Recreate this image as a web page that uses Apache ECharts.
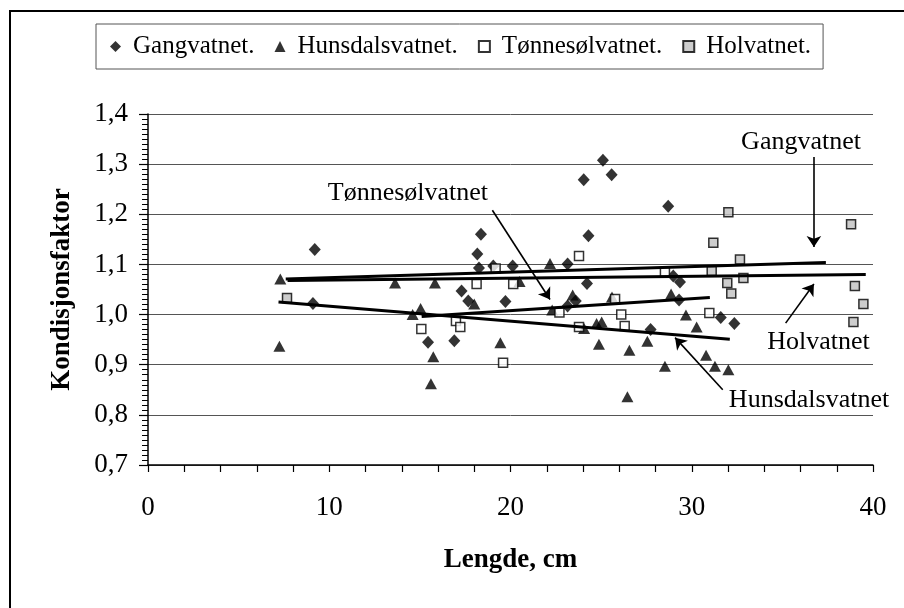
<!DOCTYPE html>
<html>
<head>
<meta charset="utf-8">
<script src="https://cdn.jsdelivr.net/npm/echarts@6/dist/echarts.min.js"></script>
<style>html,body{margin:0;padding:0;background:#fff}#c{width:904px;height:608px}</style>
</head>
<body>
<div id="c"></div>
<script>
// ---- Data (Lengde cm, Kondisjonsfaktor) ----
const seriesNames = ['Gangvatnet.', 'Hunsdalsvatnet.', 'Tønnesølvatnet.', 'Holvatnet.'];

const gangvatnet = [
  [9.2,1.130],[9.1,1.022],[15.45,0.945],[16.9,0.948],[17.3,1.047],[17.67,1.027],
  [18.17,1.121],[18.37,1.160],[18.26,1.093],[19.05,1.097],[19.72,1.026],[20.12,1.097],
  [23.15,1.101],[23.15,1.017],[23.6,1.027],[24.04,1.269],[24.3,1.157],[24.22,1.062],
  [25.1,1.308],[25.58,1.279],[27.73,0.970],[28.7,1.216],[28.98,1.077],[29.35,1.065],
  [29.3,1.029],[31.6,0.994],[32.35,0.982]
];
const hunsdalsvatnet = [
  [7.3,1.071],[7.25,0.937],[13.63,1.063],[15.83,1.063],[15.04,1.012],[14.6,1.000],
  [15.74,0.916],[15.61,0.862],[18.0,1.021],[19.44,0.944],[20.5,1.066],[22.18,1.102],
  [22.3,1.009],[23.43,1.039],[24.06,0.972],[24.75,0.982],[25.03,0.985],[24.88,0.941],
  [25.6,1.035],[26.56,0.929],[26.45,0.836],[27.55,0.947],[28.52,0.897],[28.86,1.041],
  [29.68,0.999],[30.27,0.975],[30.79,0.919],[31.28,0.897],[32.02,0.890]
];
const tonnesolvatnet = [
  [15.08,0.971],[16.99,0.987],[17.23,0.975],[18.13,1.061],[19.18,1.092],[19.59,0.904],
  [20.15,1.061],[22.7,1.004],[23.78,1.117],[23.78,0.975],[25.77,1.031],[26.11,1.000],
  [26.3,0.977],[28.52,1.085],[30.97,1.003]
];
const holvatnet = [
  [7.67,1.033],[31.1,1.087],[31.19,1.143],[31.96,1.063],[32.02,1.204],[32.18,1.042],
  [32.66,1.110],[32.85,1.073],[38.79,1.180],[38.92,0.985],[39.0,1.057],[39.47,1.021]
];

// Linear trend lines (end points)
const trendGang = [[7.6,1.071],[37.4,1.104]];
const trendHuns = [[7.2,1.025],[32.1,0.951]];
const trendTonn = [[15.1,0.996],[31.0,1.034]];
const trendHol  = [[7.7,1.068],[39.6,1.080]];

// Annotation labels: text, label position, arrow start, arrow end
const annoText  = ['Gangvatnet', 'Hunsdalsvatnet', 'Tønnesølvatnet', 'Holvatnet'];
const annoLabel = [[36.03,1.344],[36.47,0.830],[14.34,1.242],[36.99,0.944]];
const annoFrom  = [[36.74,1.314],[31.71,0.850],[19.0,1.208],[35.18,0.983]];
const annoTo    = [[36.74,1.135],[29.08,0.954],[22.18,1.030],[36.74,1.061]];

const yTickLabels = ['0,7','0,8','0,9','1,0','1,1','1,2','1,3','1,4'];
const xTickLabels = ['0','10','20','30','40'];

const FONT = 'Liberation Serif';
const chart = echarts.init(document.getElementById('c'), null, {renderer:'canvas'});

function trendSeries(data, i) {
  return {
    type:'line', data:data, symbol:'none', silent:true, z:4,
    lineStyle:{color:'#000', width:3},
    markLine:{
      silent:true, symbol:['none','arrow'], symbolSize:11,
      lineStyle:{color:'#000', width:1.6, type:'solid'},
      label:{show:false},
      data:[[{coord:annoFrom[i]},{coord:annoTo[i]}]]
    },
    markPoint:{
      silent:true, symbol:'circle', symbolSize:1,
      itemStyle:{color:'rgba(0,0,0,0)'},
      label:{show:true, position:'inside', formatter:annoText[i], fontFamily:FONT, fontSize:26, color:'#000'},
      data:[{coord:annoLabel[i]}]
    }
  };
}

const option = {
  animation:false,
  backgroundColor:'#fff',
  textStyle:{fontFamily:FONT},
  grid:{left:148, top:114, right:31, bottom:143},
  legend:{
    data:seriesNames,
    left:96, top:24,
    padding:[10,12,10,14],
    itemGap:20, itemWidth:11, itemHeight:11,
    borderColor:'#555', borderWidth:1,
    textStyle:{fontFamily:FONT, fontSize:25, color:'#000', padding:[0,0,0,7]}
  },
  graphic:[{
    type:'rect', silent:true, z:100,
    shape:{x:10, y:11, width:1000, height:1000},
    style:{fill:'none', stroke:'#000', lineWidth:2}
  }],
  xAxis:{
    type:'value', min:0, max:40, interval:10,
    axisLine:{show:true, lineStyle:{color:'#000', width:1.5}},
    axisTick:{show:true, length:7, lineStyle:{color:'#000', width:1.2}},
    minorTick:{show:true, splitNumber:5, length:7, lineStyle:{color:'#000', width:1.2}},
    splitLine:{show:false},
    axisLabel:{fontFamily:FONT, fontSize:27, color:'#000', margin:29,
      formatter:(v)=>xTickLabels[Math.round(v/10)]},
    name:'Lengde, cm', nameLocation:'middle', nameGap:82,
    nameTextStyle:{fontFamily:FONT, fontSize:27, fontWeight:'bold', color:'#000'}
  },
  yAxis:{
    type:'value', min:0.7, max:1.4, interval:0.1,
    axisLine:{show:true, lineStyle:{color:'#000', width:1.5}},
    axisTick:{show:true, length:9, lineStyle:{color:'#000', width:1.2}},
    minorTick:{show:true, splitNumber:10, length:6, lineStyle:{color:'#000', width:1}},
    splitLine:{show:true, lineStyle:{color:'#555', width:1}},
    axisLabel:{fontFamily:FONT, fontSize:27, color:'#000', margin:20,
      formatter:(v)=>yTickLabels[Math.round((v-0.7)*10)]},
    name:'Kondisjonsfaktor', nameLocation:'middle', nameGap:72,
    nameTextStyle:{fontFamily:FONT, fontSize:27, fontWeight:'bold', color:'#000'}
  },
  series:[
    {name:seriesNames[0], type:'scatter', data:gangvatnet, symbol:'diamond', symbolSize:[12,13],
      itemStyle:{color:'#000'}, z:3},
    {name:seriesNames[1], type:'scatter', data:hunsdalsvatnet, symbol:'triangle', symbolSize:[12,11],
      itemStyle:{color:'#000'}, z:3},
    {name:seriesNames[2], type:'scatter', data:tonnesolvatnet, symbol:'rect', symbolSize:9,
      itemStyle:{color:'#fff', borderColor:'#000', borderWidth:1.5}, z:3},
    {name:seriesNames[3], type:'scatter', data:holvatnet, symbol:'rect', symbolSize:9,
      itemStyle:{color:'#c0c0c0', borderColor:'#000', borderWidth:1.5}, z:3},
    trendSeries(trendGang, 0),
    trendSeries(trendHuns, 1),
    trendSeries(trendTonn, 2),
    trendSeries(trendHol, 3)
  ]
};
chart.setOption(option);
</script>
</body>
</html>
